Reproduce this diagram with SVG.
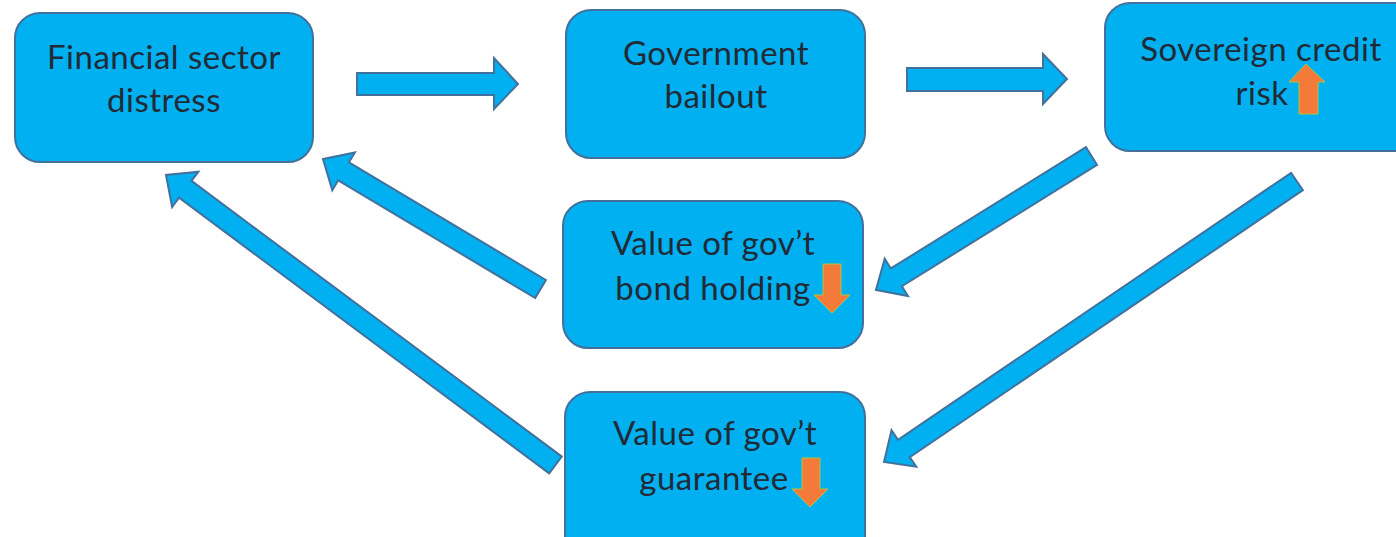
<svg xmlns="http://www.w3.org/2000/svg" width="1396" height="537" viewBox="0 0 1396 537">
<style>
.box{fill:#00B0F0;stroke:#41719C;stroke-width:2}
.arr{fill:#00B0F0;stroke:#41719C;stroke-width:2;stroke-linejoin:miter}
.t{font-family:Lato,"Liberation Sans",sans-serif;font-size:33px;letter-spacing:0.5px;fill:#222a35;text-anchor:middle}
.ind{fill:#F47A3A;stroke:#B2C23E;stroke-width:1}
</style>
<rect width="1396" height="537" fill="#ffffff"/>
<g id="connectors">
<polygon class="arr" points="357,73 494,73 494,58 518,84 494,109 494,95 357,95"/>
<polygon class="arr" points="907,68 1043,68 1043,54 1067,79 1043,104 1043,91 907,91"/>
<polygon class="arr" transform="translate(1091.5,156) rotate(148.13)" points="0,-10.5 229.8,-10.5 229.8,-22 253.8,0 229.8,22 229.8,10.5 0,10.5"/>
<polygon class="arr" transform="translate(1297,181.5) rotate(145.82)" points="0,-10.5 475.2,-10.5 475.2,-22 499.2,0 475.2,22 475.2,10.5 0,10.5"/>
<polygon class="arr" transform="translate(540.5,289) rotate(-149.14)" points="0,-10.5 229.4,-10.5 229.4,-22 253.4,0 229.4,22 229.4,10.5 0,10.5"/>
<polygon class="arr" transform="translate(555.5,465) rotate(-143.33)" points="0,-10.5 461.6,-10.5 461.6,-22 485.6,0 461.6,22 461.6,10.5 0,10.5"/>
</g>
<g id="financial-distress">
<rect class="box" x="15" y="13" width="298" height="149" rx="25"/>
<text class="t" x="164" y="69">Financial sector</text>
<text class="t" x="164" y="112">distress</text>
</g>
<g id="government-bailout">
<rect class="box" x="566" y="10" width="299" height="148" rx="25"/>
<text class="t" x="716" y="65">Government</text>
<text class="t" x="716" y="108">bailout</text>
</g>
<g id="sovereign-risk">
<rect class="box" x="1105" y="3" width="320" height="148" rx="25"/>
<text class="t" x="1261" y="61">Sovereign credit</text>
<text class="t" x="1262" y="105">risk</text>
<polygon class="ind" points="1299,114 1299,82 1289,82 1306,64 1325,82 1318,82 1318,114"/>
</g>
<g id="bond-holding">
<rect class="box" x="563" y="201" width="300" height="147" rx="25"/>
<text class="t" x="713" y="255">Value of gov’t</text>
<text class="t" x="713" y="300">bond holding</text>
<polygon class="ind" points="823,264 841,264 841,295 850,295 832,313 814,295 823,295"/>
</g>
<g id="guarantee">
<rect class="box" x="565" y="392" width="300" height="170" rx="25"/>
<text class="t" x="715" y="445">Value of gov’t</text>
<text class="t" x="714" y="490">guarantee</text>
<polygon class="ind" points="802,458 820,458 820,489 828,489 810,507 792,489 802,489"/>
</g>
</svg>
